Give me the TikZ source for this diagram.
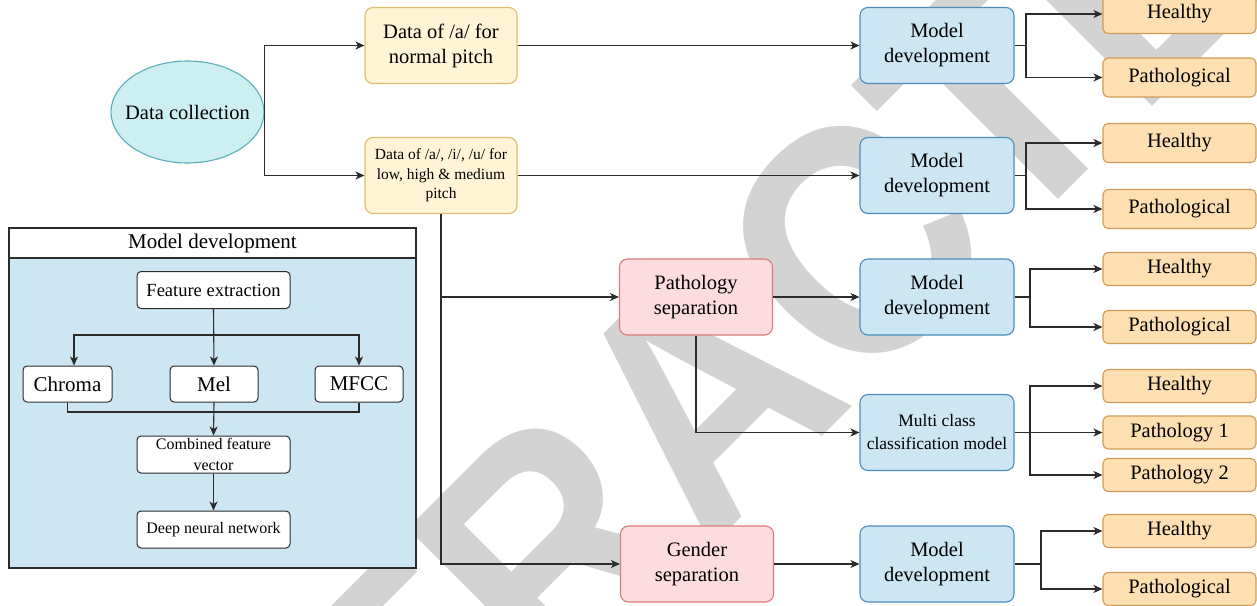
\documentclass[tikz,border=0pt]{standalone}
\usepackage{fontspec}
\setmainfont{Liberation Serif}
\newfontfamily\wmfont{Liberation Sans}
\usetikzlibrary{arrows.meta,shapes.geometric}
\definecolor{wmgray}{HTML}{D3D3D3}
\definecolor{ellfill}{HTML}{CDEFF2}
\definecolor{elldraw}{HTML}{5AAFB8}
\definecolor{yelfill}{HTML}{FFF4D6}
\definecolor{yeldraw}{HTML}{DDBE6A}
\definecolor{pinkfill}{HTML}{FDDCDF}
\definecolor{pinkdraw}{HTML}{DD7A78}
\definecolor{bluefill}{HTML}{CCE6F4}
\definecolor{bluedraw}{HTML}{4A8DBA}
\definecolor{orfill}{HTML}{FDDFB2}
\definecolor{ordraw}{HTML}{CF9B55}
\definecolor{linec}{HTML}{2B2B2B}
\begin{document}
\begin{tikzpicture}[x=1pt,y=-1pt,
  base/.style={draw, rounded corners=8pt, align=center, line width=1.1pt, inner sep=0pt,
    font=\fontsize{20.5}{25}\selectfont},
  yelbox/.style={base, fill=yelfill, draw=yeldraw, minimum width=152pt, minimum height=76pt},
  pinkbox/.style={base, fill=pinkfill, draw=pinkdraw, minimum width=153pt, minimum height=76pt},
  bluebox/.style={base, fill=bluefill, draw=bluedraw, minimum width=154pt, minimum height=76pt},
  outbox/.style={base, rounded corners=5pt, fill=orfill, draw=ordraw, minimum width=153pt, minimum height=#1},
  outbox/.default=39pt,
  inbox/.style={draw=linec, fill=white, rounded corners=4pt, line width=1pt, align=center, inner sep=0pt,
    minimum height=37pt, font=\fontsize{21}{25}\selectfont},
  conn/.style={draw=linec, line width=1.1pt},
  arr/.style={conn, -{Stealth[length=9pt,width=8pt,inset=2.5pt]}}
]
\useasboundingbox (0,0) rectangle (1257,605);
% watermark
\begin{scope}
\clip (0,0) rectangle (1257,605);
\node[rotate=45, xscale=0.9, text=wmgray, inner sep=0pt,
  font=\wmfont\bfseries\fontsize{330}{330}\selectfont] (wm) at (702,396) {RETRACTED};
\end{scope}

% left column
\node[ellipse, draw=elldraw, fill=ellfill, line width=1.1pt, minimum width=153pt, minimum height=102pt,
  inner sep=0pt, font=\fontsize{20.5}{25}\selectfont] (dc) at (187.5,112) {\makebox[0pt]{Data collection}};
\node[yelbox] (d1) at (441,45.5) {Data of /a/ for\\normal pitch};
\node[yelbox, font=\fontsize{15.5}{19.5}\selectfont] (d2) at (441,175.5) {Data of /a/, /i/, /u/ for\\low, high \& medium\\pitch};

% model development panel
\node[draw=linec, fill=white, line width=1.1pt, minimum width=407pt, minimum height=30pt, inner sep=0pt,
  font=\fontsize{21}{25}\selectfont] (pt) at (212.5,243) {Model development};
\node[draw=linec, fill=bluefill, line width=1.1pt, minimum width=407pt, minimum height=310pt, inner sep=0pt]
  (pb) at (212.5,413) {};
\node[inbox, minimum width=153pt, font=\fontsize{18.5}{22}\selectfont] (fe) at (213.5,290) {Feature extraction};
\node[inbox, minimum width=89pt, minimum height=36pt] (ch) at (67.5,384) {Chroma};
\node[inbox, minimum width=88pt, minimum height=36pt] (mel) at (214,384) {Mel};
\node[inbox, minimum width=88pt, minimum height=36pt] (mfcc) at (359,384) {MFCC};
\node[inbox, minimum width=153pt, font=\fontsize{16}{20.5}\selectfont] (cfv) at (213.5,454.5) {Combined feature\\vector};
\node[inbox, minimum width=153pt, font=\fontsize{16}{20}\selectfont] (dnn) at (213.5,529.5) {Deep neural network};
\coordinate (fb) at (213.5,335);
\coordinate (mb) at (214,412);
\draw[arr] (fe.south) -- (mel.north);
\draw[arr] (fb) -| ([xshift=6.5pt]ch.north);
\draw[arr] (fb) -| (mfcc.north);
\draw[conn] (ch.south) |- (mb) -| (mfcc.south);
\draw[arr] (mel.south) -- (cfv.north);
\draw[arr] (cfv.south) -- (dnn.north);

% middle
\node[pinkbox] (ps) at (696,297) {Pathology\\separation};
\node[pinkbox] (gs) at (697,564) {Gender\\separation};

% model boxes
\node[bluebox] (m1) at (937,45.5) {Model\\development};
\node[bluebox] (m2) at (937,175.5) {Model\\development};
\node[bluebox] (m3) at (937,297) {Model\\development};
\node[bluebox, font=\fontsize{17.5}{23}\selectfont] (mc) at (937,432.5) {Multi class\\classification model};
\node[bluebox] (m5) at (937,564) {Model\\development};

% outcomes
\node[outbox] (h1) at (1179.5,14) {Healthy};
\node[outbox] (p1) at (1179.5,77.5) {Pathological};
\node[outbox] (h2) at (1179.5,143) {Healthy};
\node[outbox] (p2) at (1179.5,209) {Pathological};
\node[outbox=33pt] (h3) at (1179.5,269) {Healthy};
\node[outbox=33pt] (p3) at (1179.5,327) {Pathological};
\node[outbox=33pt] (h4) at (1179.5,386) {Healthy};
\node[outbox=33pt] (pa1) at (1179.5,432.5) {Pathology 1};
\node[outbox=33pt] (pa2) at (1179.5,475) {Pathology 2};
\node[outbox=33pt] (h5) at (1179.5,531) {Healthy};
\node[outbox=33pt] (p5) at (1179.5,589) {Pathological};

% main connectors
\draw[arr] (dc.east) |- (d1.west);
\draw[arr] (dc.east) |- (d2.west);
\draw[arr] (d1.east) -- (m1.west);
\draw[arr] (d2.east) -- (m2.west);
\draw[arr] (d2.south) |- (ps.west);
\draw[arr] (d2.south) |- (gs.west);
\draw[arr] (ps.east) -- (m3.west);
\draw[arr] (ps.south) |- (mc.west);
\draw[arr] (gs.east) -- (m5.west);

\coordinate (j1) at (1026,45.5);
\coordinate (j2) at (1026,175.5);
\coordinate (j3) at (1030,297);
\coordinate (j4) at (1030,432.5);
\coordinate (j5) at (1041,564);
\draw[conn] (m1.east) -- (j1);
\draw[arr] (j1) |- (h1.west);
\draw[arr] (j1) |- (p1.west);
\draw[conn] (m2.east) -- (j2);
\draw[arr] (j2) |- (h2.west);
\draw[arr] (j2) |- (p2.west);
\draw[conn] (m3.east) -- (j3);
\draw[arr] (j3) |- (h3.west);
\draw[arr] (j3) |- (p3.west);
\draw[arr] (mc.east) -- (pa1.west);
\draw[arr] (j4) |- (h4.west);
\draw[arr] (j4) |- (pa2.west);
\draw[conn] (m5.east) -- (j5);
\draw[arr] (j5) |- (h5.west);
\draw[arr] (j5) |- (p5.west);
\end{tikzpicture}
\end{document}
